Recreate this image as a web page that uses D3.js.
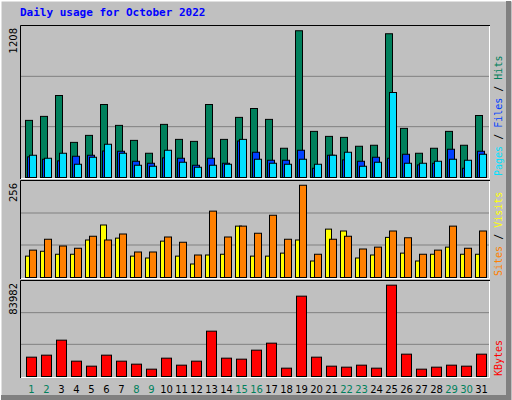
<!DOCTYPE html>
<html><head><meta charset="utf-8">
<script src="https://cdn.jsdelivr.net/npm/d3@7"></script>
<style>body{margin:0;background:#fff}</style></head>
<body><svg id="c" width="512" height="400"></svg>
<script>
const days = d3.range(1,32);
const weekends = [1,2,8,9,15,16,22,23,29,30];
const hits = [457,489,656,281,337,584,417,297,194,425,305,289,584,305,481,552,465,234,1174,369,329,321,250,258,1150,393,194,234,369,258,496];
const files = [165,146,133,170,178,212,210,130,114,157,154,98,154,114,292,202,138,138,218,74,178,141,130,162,154,186,101,114,226,74,210];
const pages = [178,154,194,106,162,266,194,98,90,218,122,82,98,106,305,146,114,106,146,106,178,202,90,122,680,114,114,130,146,138,186];
const visits = [57,70,62,62,100,140,105,57,52,97,57,36,60,62,137,57,57,65,100,44,129,124,52,60,107,65,44,62,81,62,62];
const sites = [73,102,84,78,110,100,116,68,68,108,94,60,177,108,137,118,166,102,246,62,102,110,76,81,124,106,62,73,137,78,124];
const kbytes = [17092,18860,32120,13556,9135,18860,13556,10904,6483,16208,10020,13556,40079,16208,15324,23281,29470,7367,71022,17092,9135,8251,10020,7367,80746,19744,6483,8251,10020,9135,19744];
const maxTop = 1208, maxMid = 256, maxBot = 83982;

const svg = d3.select("#c");
svg.append("rect").attr("width",512).attr("height",400).attr("fill","#c0c0c0");
// bevel
svg.append("path").attr("d","M0,400V0H512").attr("fill","none").attr("stroke","#fff").attr("stroke-width",3);
svg.append("path").attr("d","M1,397.5H508.5V1").attr("fill","none").attr("stroke","#808080").attr("stroke-width",5);

svg.append("text").attr("x",20).attr("y",16).text("Daily usage for October 2022")
  .attr("font-family","DejaVu Sans Mono").attr("font-weight","bold").attr("font-size",11).attr("fill","#0000ff");

const x = d3.scaleBand().domain(days).range([22,487]).padding(0);
const X0 = 20, X1 = 490;
const panels = [{top:25,bot:177,max:maxTop,lab:"1208"},{top:180,bot:277,max:maxMid,lab:"256"},{top:280,bot:376,max:maxBot,lab:"83982"}];
panels.forEach(p=>{
  p.y = d3.scaleLinear().domain([0,p.max]).range([p.bot,p.top+1]);
  svg.append("rect").attr("x",X0).attr("y",p.top).attr("width",X1-X0).attr("height",p.bot-p.top+2).attr("fill","#c0c0c0");
  [1/3,2/3].forEach(f=>svg.append("line").attr("x1",X0+1).attr("x2",X1-1).attr("y1",p.y(p.max*f)).attr("y2",p.y(p.max*f)).attr("stroke","#808080").attr("stroke-width",1));
  svg.append("path").attr("d",`M${X0+.5},${p.bot+2}V${p.top+.5}H${X1}`).attr("fill","none").attr("stroke","#000");
  svg.append("path").attr("d",`M${X0+1},${p.bot+1.5}H${X1-.5}V${p.top+1}`).attr("fill","none").attr("stroke","#fff");
  svg.append("text").attr("transform",`translate(17,${p.top+3}) rotate(-90)`).attr("text-anchor","end")
    .attr("font-family","DejaVu Sans").attr("font-size",10).text(p.lab);
});
function bars(data,p,dx,w,color){
  svg.append("g").selectAll("rect").data(data).join("rect")
   .attr("x",(d,i)=>x(days[i])+dx+.5).attr("width",w).attr("y",d=>p.y(d)+.5).attr("height",d=>p.bot-p.y(d))
   .attr("fill",color).attr("stroke","#000").attr("stroke-width",1);
}
const [pt,pm,pb]=panels;
bars(hits,pt,3,7,"#00805c");
bars(files,pt,5,7,"#0040ff");
bars(pages,pt,7,7,"#00e0ff");
bars(visits,pm,3,6,"#ffff00");
bars(sites,pm,7,7,"#ff8000");
bars(kbytes,pb,4,10,"#ff0000");

svg.append("g").selectAll("text").data(days).join("text")
  .attr("x",d=>x(d)+9.5).attr("y",393).attr("text-anchor","middle")
  .attr("font-family","DejaVu Sans").attr("font-size",10)
  .attr("fill",d=>weekends.includes(d)?"#00805c":"#000").text(d=>d);

function rlab(yb,parts){
  const t=svg.append("text").attr("transform",`translate(502,${yb}) rotate(-90)`)
   .attr("font-family","DejaVu Sans Mono").attr("font-size",10);
  parts.forEach(([s,c])=>t.append("tspan").attr("fill",c).text(s));
}
rlab(176,[["Pages","#00e0ff"],[" / ","#000"],["Files","#0040ff"],[" / ","#000"],["Hits","#00805c"]]);
rlab(276,[["Sites","#ff8000"],[" / ","#000"],["Visits","#ffff00"]]);
rlab(376,[["KBytes","#ff0000"]]);
</script></body></html>
